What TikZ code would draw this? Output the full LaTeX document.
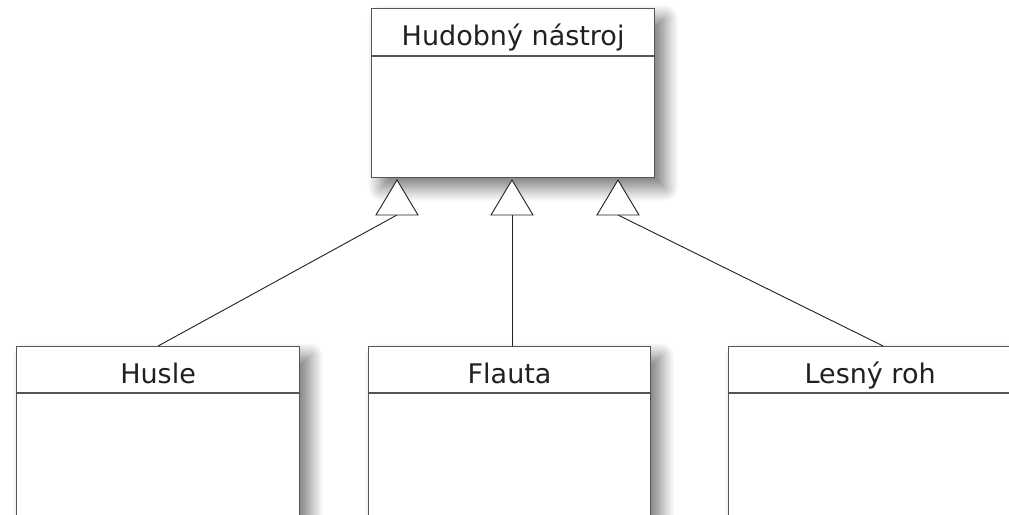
\documentclass[tikz,border=0pt]{standalone}
\usepackage{fontspec}
\setmainfont{DejaVu Sans}
\usetikzlibrary{calc,shadows.blur}

\definecolor{edge}{HTML}{555555}
\definecolor{ink}{HTML}{231F20}

\tikzset{
  cls/.style={draw=edge, line width=1.2pt, fill=white, anchor=north west,
    minimum width=283pt, minimum height=169pt, inner sep=0pt,
    blur shadow={shadow xshift=10pt, shadow yshift=-10pt,
      shadow blur radius=14pt, shadow opacity=55, shadow blur steps=16}},
  clsname/.style={anchor=base, inner sep=0pt, text=ink, font=\fontsize{27}{31}\selectfont},
  sep/.style={draw=edge, line width=1.2pt},
  gen/.style={draw=ink, line width=0.9pt, fill=white, line join=miter},
  link/.style={draw=ink, line width=0.9pt}
}

\begin{document}
\begin{tikzpicture}[x=1pt,y=-1pt]
  \useasboundingbox (0,0) rectangle (1009,514);
  \clip (0,0) rectangle (1009,514);

  % parent class
  \node[cls] (hud) at (371,8) {};
  \node[clsname] (hudname) at ($(hud.north)+(0,37)$) {Hudobný nástroj};
  \draw[sep] ([yshift=-48pt]hud.north west) -- ([yshift=-48pt]hud.north east);

  % subclasses
  \node[cls, minimum height=240pt] (husle) at (16,346) {};
  \node[clsname] (huslename) at ($(husle.north)+(0,37)$) {Husle};
  \draw[sep] ([yshift=-47pt]husle.north west) -- ([yshift=-47pt]husle.north east);

  \node[cls, minimum width=282pt, minimum height=240pt] (flauta) at (368,346) {};
  \node[clsname] (flautaname) at ($(flauta.north)+(0,37)$) {Flauta};
  \draw[sep] ([yshift=-47pt]flauta.north west) -- ([yshift=-47pt]flauta.north east);

  \node[cls, minimum height=240pt] (lesny) at (728,346) {};
  \node[clsname] (lesnyname) at ($(lesny.north)+(0,37)$) {Lesný roh};
  \draw[sep] ([yshift=-47pt]lesny.north west) -- ([yshift=-47pt]lesny.north east);

  % generalization arrowheads (base midpoints)
  \coordinate (g1) at (397,215);
  \coordinate (g2) at (512,215);
  \coordinate (g3) at (618,215);
  \coordinate (e3) at ([xshift=13pt]lesny.north);

  \draw[link] (g1) -- (husle.north);
  \draw[link] (g2) -- (g2 |- flauta.north);
  \draw[link] (g3) -- (e3);

  \foreach \g in {g1,g2,g3}
    \draw[gen] ($(\g)+(-21,0)$) -- ($(\g)+(0,-35)$) -- ($(\g)+(21,0)$) -- cycle;
\end{tikzpicture}
\end{document}
